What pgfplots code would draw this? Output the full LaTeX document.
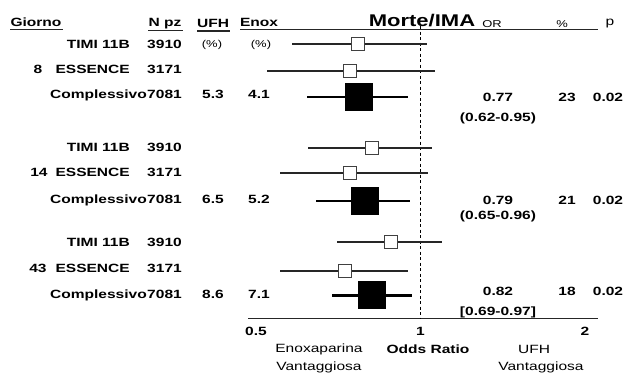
\documentclass[border=0pt]{standalone}
\usepackage{fontspec}
\setmainfont{Liberation Sans}[FakeStretch=1.3]
\usepackage{pgfplots}
\pgfplotsset{compat=1.18}
\usepackage{pgfplotstable}

% single studies (open squares)
\pgfplotstableread{
y   or    lo    hi
44  0.768 0.582 1.028
71  0.743 0.524 1.063
148 0.815 0.622 1.050
173 0.743 0.553 1.032
242 0.883 0.703 1.094
271 0.728 0.553 0.948
}\studies
% pooled (filled squares)
\pgfplotstableread{
y   or    lo    hi
97  0.77  0.62  0.95
201 0.79  0.645 0.955
295 0.815 0.69  0.965
}\overall

\tikzset{
  tb/.style={inner sep=0pt, font=\fontsize{12}{14}\selectfont\bfseries},
  tr/.style={inner sep=0pt, font=\fontsize{12}{14}\selectfont},
  ts/.style={inner sep=0pt, font=\fontsize{10}{12}\selectfont},
}

\begin{document}
\begin{tikzpicture}[x=1bp,y=1bp]
\useasboundingbox (0,0) rectangle (624,378);
\begin{axis}[
  at={(248bp,60bp)}, anchor=south west,
  width=350bp, height=290bp, scale only axis,
  xmode=log, xmin=0.4834, xmax=2.113,
  ymin=28, ymax=318, y dir=reverse,
  axis x line*=bottom, axis y line=none,
  x axis line style={-, line width=0.9pt, black!85},
  xtick={0.5,1,2}, xticklabels={0.5,1,2},
  minor xtick={}, major tick length=0pt, minor tick length=0pt,
  xticklabel style={font=\fontsize{12}{14}\selectfont\bfseries, yshift=-6bp},
  clip=false,
]
\addplot[black, dash pattern=on 3bp off 2.5bp, line width=0.8pt] coordinates {(1,26) (1,318)};
\addplot[only marks, mark=square*, mark size=6.5bp,
  mark options={fill=white, draw=black!75, line width=0.9pt},
  error bars/.cd, x dir=both, x explicit,
  error mark=none, error bar style={line width=1.3pt, black!85}]
  table[x=or, y=y, x error plus expr=\thisrow{hi}-\thisrow{or}, x error minus expr=\thisrow{or}-\thisrow{lo}] {\studies};
\addplot[only marks, mark=square*, mark size=13.5bp,
  mark options={fill=black, draw=black},
  error bars/.cd, x dir=both, x explicit,
  error mark=none, error bar style={line width=3pt, black}]
  table[x=or, y=y, x error plus expr=\thisrow{hi}-\thisrow{or}, x error minus expr=\thisrow{or}-\thisrow{lo}] {\overall};
\end{axis}

% top rule and underlines
\draw[line width=0.9pt, black!85] (240,349) -- (598,349);
\draw[line width=0.9pt, black!85] (10,349) -- (63,349);
\draw[line width=0.9pt, black!85] (148,348) -- (183,348);
\draw[line width=1.1pt, black!85] (197,347) -- (230,347);

% header
\node[tb, anchor=base] at (36,352) {Giorno};
\node[tb, anchor=base] at (165,352) {N pz};
\node[tb, anchor=base] at (213,351) {UFH};
\node[tb, anchor=base] at (259,352) {Enox};
\node[inner sep=0pt, font=\fontsize{17}{19}\selectfont\bfseries, anchor=base] at (422,352) {Morte/IMA};
\node[ts, anchor=base] at (492,351) {OR};
\node[ts, anchor=base] at (562,351) {\%};
\node[tr, anchor=base] at (610,353) {p};

% day 8
\node[tb, anchor=base east] at (130,330) {TIMI 11B};
\node[tb, anchor=base east] at (182,330) {3910};
\node[ts, anchor=base] at (212,331) {(\%)};
\node[ts, anchor=base] at (261,331) {(\%)};
\node[tb, anchor=base] at (38,305) {8};
\node[tb, anchor=base east] at (130,305) {ESSENCE};
\node[tb, anchor=base east] at (182,305) {3171};
\node[tb, anchor=base east] at (147,280) {Complessivo};
\node[tb, anchor=base east] at (182,280) {7081};
\node[tb, anchor=base] at (213,280) {5.3};
\node[tb, anchor=base] at (259,280) {4.1};
\node[tb, anchor=base] at (498,277) {0.77};
\node[tb, anchor=base] at (498,257) {(0.62-0.95)};
\node[tb, anchor=base] at (567,277) {23};
\node[tb, anchor=base] at (608,277) {0.02};

% day 14
\node[tb, anchor=base east] at (130,227) {TIMI 11B};
\node[tb, anchor=base east] at (182,227) {3910};
\node[tb, anchor=base] at (39,202) {14};
\node[tb, anchor=base east] at (130,202) {ESSENCE};
\node[tb, anchor=base east] at (182,202) {3171};
\node[tb, anchor=base east] at (147,175) {Complessivo};
\node[tb, anchor=base east] at (182,175) {7081};
\node[tb, anchor=base] at (213,175) {6.5};
\node[tb, anchor=base] at (259,175) {5.2};
\node[tb, anchor=base] at (498,174) {0.79};
\node[tb, anchor=base] at (498,159) {(0.65-0.96)};
\node[tb, anchor=base] at (567,174) {21};
\node[tb, anchor=base] at (608,174) {0.02};

% day 43
\node[tb, anchor=base east] at (130,132) {TIMI 11B};
\node[tb, anchor=base east] at (182,132) {3910};
\node[tb, anchor=base] at (38,106) {43};
\node[tb, anchor=base east] at (130,106) {ESSENCE};
\node[tb, anchor=base east] at (182,106) {3171};
\node[tb, anchor=base east] at (147,80) {Complessivo};
\node[tb, anchor=base east] at (182,80) {7081};
\node[tb, anchor=base] at (213,80) {8.6};
\node[tb, anchor=base] at (259,80) {7.1};
\node[tb, anchor=base] at (498,83) {0.82};
\node[tb, anchor=base] at (498,63) {[0.69-0.97]};
\node[tb, anchor=base] at (567,83) {18};
\node[tb, anchor=base] at (608,83) {0.02};

% bottom captions
\node[tr, anchor=base] at (319,26) {Enoxaparina};
\node[tr, anchor=base] at (319,8) {Vantaggiosa};
\node[tb, anchor=base] at (428,25) {Odds Ratio};
\node[tr, anchor=base] at (534,25) {UFH};
\node[tr, anchor=base] at (541,8) {Vantaggiosa};
\end{tikzpicture}
\end{document}
